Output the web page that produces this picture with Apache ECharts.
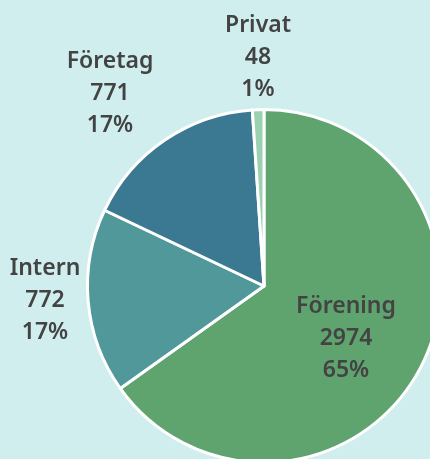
<!DOCTYPE html>
<html>
<head>
<meta charset="utf-8">
<script src="https://cdn.jsdelivr.net/npm/echarts@6/dist/echarts.min.js"></script>
<style>
  html, body { margin: 0; padding: 0; background: #d0eeee; }
  #chart { width: 430px; height: 459px; }
</style>
</head>
<body>
<div id="chart"></div>
<script>
var categories = ['Förening', 'Intern', 'Företag', 'Privat'];
var values = [2974, 772, 771, 48];
var colors = ['#5fa36f', '#51989a', '#3b7891', '#9bd1b0'];
// label box centres (text only, the slices come from the pie itself)
var labelXY = [[346, 338], [45, 300], [110, 93], [258, 57]];

var total = values.reduce(function (a, b) { return a + b }, 0)
var pieData = categories.map(function (name, i) {
  return {
    name: name,
    value: values[i],
    itemStyle: { color: colors[i] }
  }
})

var chart = echarts.init(document.getElementById('chart'))
chart.setOption({
  backgroundColor: '#d0eeee',
  animation: false,
  series: [{
    type: 'pie',
    center: [264, 286],
    radius: 176.5,
    startAngle: 90,
    clockwise: true,
    avoidLabelOverlap: false,
    data: pieData,
    itemStyle: {
      borderColor: '#ffffff',
      borderWidth: 3
    },
    label: {
      show: true,
      position: 'inside',
      color: '#434343',
      fontFamily: 'Noto Sans',
      fontWeight: 600,
      fontSize: 23,
      lineHeight: 32,
      align: 'center',
      formatter: function (p) {
        return p.name + '\n' + p.value + '\n' + Math.round(p.value / total * 100) + '%'
      }
    },
    labelLine: { show: false },
    labelLayout: function (params) {
      var xy = labelXY[params.dataIndex]
      return { x: xy[0], y: xy[1], align: 'center', verticalAlign: 'middle' }
    }
  }]
})
</script>
</body>
</html>
